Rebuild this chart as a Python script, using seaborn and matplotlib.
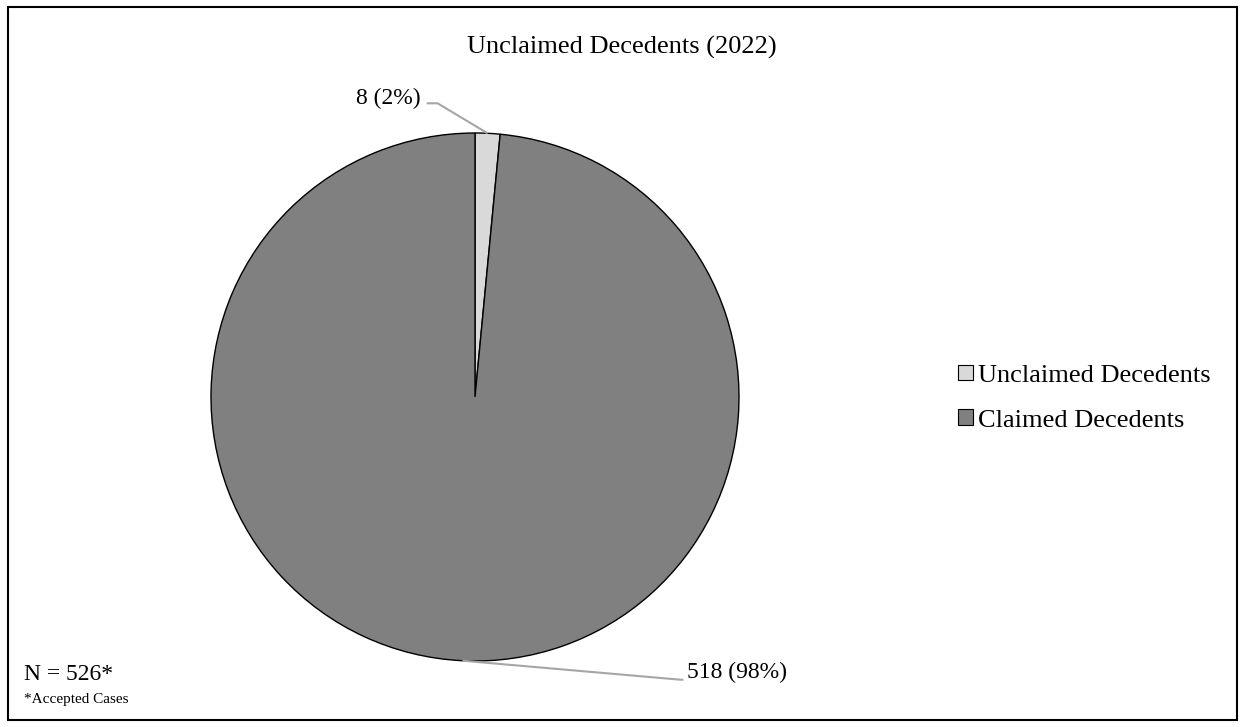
import numpy as np
import seaborn as sns
import matplotlib.pyplot as plt
from matplotlib.patches import Rectangle

# data
categories = ["Unclaimed Decedents", "Claimed Decedents"]
counts = [8, 518]
percents = ["2%", "98%"]
colors = ["#D9D9D9", "#808080"]
title = "Unclaimed Decedents (2022)"
n_note = "N = 526*"
foot_note = "*Accepted Cases"

sns.set_style("white")
plt.rcParams["font.family"] = ["Liberation Serif", "DejaVu Serif"]
plt.rcParams["text.color"] = "black"

W, H = 1243, 727
fig = plt.figure(figsize=(W / 100, H / 100), dpi=100)
ax = fig.add_axes([0, 0, 1, 1])

# pie placed in pixel-like coordinates (y up)
cx, cy, r = 475, H - 397, 264
wedges, _ = ax.pie(
    counts,
    colors=colors,
    startangle=90,
    counterclock=False,
    center=(cx, cy),
    radius=r,
    wedgeprops=dict(edgecolor="black", linewidth=1.0),
    frame=True,
)
ax.set_xlim(0, W)
ax.set_ylim(0, H)
ax.set_aspect("equal")
ax.axis("off")

# data labels with leader lines
label_offsets = [(-50, 30, -11, "right"), (218, -19, 3, "left")]
for w, c, p, (dx, dy, hx, ha) in zip(wedges, counts, percents, label_offsets):
    ang = np.deg2rad((w.theta1 + w.theta2) / 2)
    x0, y0 = cx + r * np.cos(ang), cy + r * np.sin(ang)
    x1, y1 = x0 + dx, y0 + dy
    x2 = x1 + hx
    ax.plot([x0, x1, x2], [y0, y1, y1], color="#A6A6A6", lw=1.5,
            solid_capstyle="butt")
    tx = x2 - 6 if ha == "right" else x2 + 4
    ax.text(tx, y1 + 5 if ha == "right" else y1 + 7, f"{c} ({p})",
            ha=ha, va="center", fontsize=17, color="black")

fig.text(W / 2 / W, 1 - 47 / H, title, ha="center", va="center",
         fontsize=19, color="black")

leg = fig.legend(
    wedges, categories,
    loc="center left", bbox_to_anchor=(945 / W, 1 - 398 / H),
    frameon=False, fontsize=19, labelcolor="black",
    handlelength=0.55, handleheight=0.55, handletextpad=0.2,
    labelspacing=0.85, borderpad=0,
)
for h in leg.legend_handles:
    h.set_edgecolor("black")
    h.set_linewidth(0.8)

fig.text(24 / W, 1 - 675 / H, n_note, ha="left", va="center", fontsize=17)
fig.text(24 / W, 1 - 700 / H, foot_note, ha="left", va="center", fontsize=11)

fig.patches.append(Rectangle((8 / W, 7 / H), 1229 / W, 713 / H,
                             transform=fig.transFigure, fill=False,
                             edgecolor="black", linewidth=1.5))

fig.savefig("out.png", dpi=100)
